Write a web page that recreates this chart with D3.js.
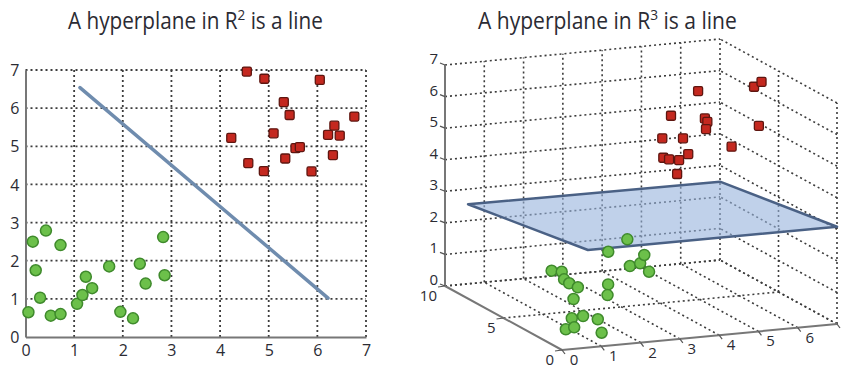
<!DOCTYPE html>
<html>
<head>
<meta charset="utf-8">
<script src="https://cdn.jsdelivr.net/npm/d3@7"></script>
<style>
  body { margin: 0; background: #fff; }
  text { font-family: "Open Sans", sans-serif; fill: #2b2b33; }
</style>
</head>
<body>
<svg id="chart" width="844" height="369"></svg>
<script>
// ---- left chart data (2D) ----
const ticks2d = [0, 1, 2, 3, 4, 5, 6, 7];
const lineX = [1.12, 6.22];
const lineY = [6.54, 1.02];
const greenX = [0.06, 0.15, 0.42, 0.72, 0.21, 0.30, 0.52, 0.72, 1.06, 1.17, 1.24, 1.37, 1.72, 1.95, 2.21, 2.35, 2.47, 2.83, 2.86];
const greenY = [0.65, 2.50, 2.79, 2.41, 1.75, 1.03, 0.56, 0.60, 0.87, 1.10, 1.58, 1.28, 1.85, 0.66, 0.49, 1.92, 1.40, 2.62, 1.62];
const redX = [4.55, 4.91, 6.05, 5.31, 5.43, 6.76, 6.35, 4.23, 5.10, 6.22, 6.46, 5.55, 5.64, 5.34, 6.32, 4.58, 4.90, 5.88];
const redY = [6.96, 6.77, 6.74, 6.16, 5.82, 5.78, 5.54, 5.22, 5.34, 5.30, 5.28, 4.95, 4.98, 4.68, 4.77, 4.56, 4.35, 4.34];

// ---- right chart data (3D) ----
const xTicks3 = [0, 1, 2, 3, 4, 5, 6, 7];
const xLabels3 = [0, 1, 2, 3, 4, 5, 6];
const yTicks3 = [0, 5, 10];
const zTicks3 = [0, 1, 2, 3, 4, 5, 6, 7];
const planeX = [0, 7, 7, 0.66];
const planeY = [8.03, 10, 0, 0];
const planeZ = [2.99, 2.48, 3.08, 3.09];
const green3X = [1.04, 1.22, 1.22, 1.30, 1.33, 1.27, 1.60, 1.54, 1.77, 1.22, 1.43, 1.62, 0.78, 1.04, 1.42, 2.30, 2.30, 2.63, 2.80, 2.74];
const green3Y = [4.38, 4.12, 3.92, 3.75, 3.11, 3.28, 1.43, 1.28, 1.99, 3.26, 3.00, 2.38, 2.29, 2.45, 1.38, 2.14, 1.92, 2.15, 2.37, 1.76];
const green3Z = [1.5, 1.5, 1.3, 1.2, 1.2, 0.8, 1.6, 1.3, 2.5, 0.2, 0.3, 0.3, 0.1, 0.1, 0.1, 2.8, 2.0, 2.0, 2.2, 1.8];
const red3X = [5.71, 4.77, 5.40, 5.32, 5.25, 4.31, 4.76, 4.19, 4.25, 4.44, 4.75, 4.22, 6.11, 6.47, 6.58, 6.53];
const red3Y = [7.54, 6.70, 5.92, 5.44, 5.32, 5.90, 5.64, 5.41, 5.12, 4.90, 5.16, 4.33, 6.02, 5.31, 5.04, 5.10];
const red3Z = [6.0, 5.5, 5.5, 5.5, 5.3, 5.0, 5.0, 4.5, 4.5, 4.5, 4.6, 4.2, 4.5, 6.5, 6.7, 5.3];

const svg = d3.select('#chart');
const gridColor = '#3c3c3c';
const greenFill = '#6cc04a', greenStroke = '#3f8a2c';
const redFill = '#c4281f', redStroke = '#5e1610';

// titles, squeezed to the reference width
function title(cx, sup, width) {
  const t = svg.append('text')
    .attr('x', 0).attr('y', 29)
    .style('font-size', '23px');
  t.append('tspan').text('A hyperplane in R');
  t.append('tspan').attr('dy', -9).style('font-size', '15px').text(sup);
  t.append('tspan').attr('dy', 9).text(' is a line');
  const w = t.node().getComputedTextLength();
  const k = width / w;
  t.attr('transform', `translate(${cx - width / 2},0) scale(${k},1)`);
}
title(195.5, '2', 255);
title(607.5, '3', 259);

// ---------- left: 2D plot ----------
const x = d3.scaleLinear().domain([0, 7]).range([25.5, 366]);
const y = d3.scaleLinear().domain([0, 7]).range([337, 70]);
const left = svg.append('g');

// dotted grid
left.selectAll('.vg').data(ticks2d.slice(1)).enter().append('line')
  .attr('x1', d => x(d)).attr('x2', d => x(d))
  .attr('y1', y(0)).attr('y2', y(7))
  .attr('stroke', gridColor).attr('stroke-width', 1.8).attr('stroke-dasharray', '2,3');
left.selectAll('.hg').data(ticks2d.slice(1)).enter().append('line')
  .attr('x1', x(0)).attr('x2', x(7))
  .attr('y1', d => y(d)).attr('y2', d => y(d))
  .attr('stroke', gridColor).attr('stroke-width', 1.8).attr('stroke-dasharray', '2,3');

// axes
const xAxis = left.append('g').attr('transform', `translate(0,${y(0)})`)
  .call(d3.axisBottom(x).tickValues(ticks2d).tickSize(0).tickPadding(5).tickFormat(d3.format('d')));
const yAxis = left.append('g').attr('transform', `translate(${x(0)},0)`)
  .call(d3.axisLeft(y).tickValues(ticks2d).tickSize(0).tickPadding(6).tickFormat(d3.format('d')));
[xAxis, yAxis].forEach(a => {
  a.select('.domain').attr('stroke', '#777').attr('stroke-width', 2);
  a.selectAll('text').style('font-size', '16px').attr('fill', '#2b2b33').style('font-family', '"Open Sans", sans-serif');
});
xAxis.selectAll('text').attr('dy', '0.85em');
yAxis.selectAll('text').attr('dy', '0.35em');

// separating line
left.append('line')
  .attr('x1', x(lineX[0])).attr('y1', y(lineY[0]))
  .attr('x2', x(lineX[1])).attr('y2', y(lineY[1]))
  .attr('stroke', '#6f8cae').attr('stroke-width', 3.5).attr('stroke-linecap', 'round');

// points
left.selectAll('.g').data(greenX.map((d, i) => [d, greenY[i]])).enter().append('circle')
  .attr('cx', d => x(d[0])).attr('cy', d => y(d[1])).attr('r', 5.5)
  .attr('fill', greenFill).attr('stroke', greenStroke).attr('stroke-width', 1.5);
left.selectAll('.r').data(redX.map((d, i) => [d, redY[i]])).enter().append('rect')
  .attr('x', d => x(d[0]) - 4.5).attr('y', d => y(d[1]) - 4.5)
  .attr('width', 9).attr('height', 9).attr('rx', 1.5)
  .attr('fill', redFill).attr('stroke', redStroke).attr('stroke-width', 1.3);

// ---------- right: 3D plot ----------
const origin = [562, 350];
const EX = [275, -26], EY = [-117, -64], EZ = [0, -221];
const xs = d3.scaleLinear().domain([0, 7]).range([0, 1]);
const ys = d3.scaleLinear().domain([0, 10]).range([0, 1]);
const zs = d3.scaleLinear().domain([0, 7]).range([0, 1]);
function P(a, b, c) {
  const u = xs(a), v = ys(b), w = zs(c);
  return [origin[0] + u * EX[0] + v * EY[0] + w * EZ[0],
          origin[1] + u * EX[1] + v * EY[1] + w * EZ[1]];
}
const right = svg.append('g');
const segs = [];
// back wall y = 10
zTicks3.forEach(z => segs.push([[0, 10, z], [7, 10, z]]));
xTicks3.slice(1).forEach(xv => segs.push([[xv, 10, 0], [xv, 10, 7]]));
// right wall x = 7
zTicks3.forEach(z => segs.push([[7, 0, z], [7, 10, z]]));
yTicks3.slice(0, 2).forEach(yv => segs.push([[7, yv, 0], [7, yv, 7]]));
// floor z = 0
xTicks3.slice(1).forEach(xv => segs.push([[xv, 0, 0], [xv, 10, 0]]));
yTicks3.slice(1).forEach(yv => segs.push([[0, yv, 0], [7, yv, 0]]));

right.selectAll('.grid3').data(segs).enter().append('line')
  .attr('x1', d => P(...d[0])[0]).attr('y1', d => P(...d[0])[1])
  .attr('x2', d => P(...d[1])[0]).attr('y2', d => P(...d[1])[1])
  .attr('stroke', gridColor).attr('stroke-width', 1.6).attr('stroke-dasharray', '2,3');

// solid axes
const axes3 = [[[0, 10, 0], [0, 10, 7]], [[0, 0, 0], [0, 10, 0]], [[0, 0, 0], [7, 0, 0]]];
right.selectAll('.ax3').data(axes3).enter().append('line')
  .attr('x1', d => P(...d[0])[0]).attr('y1', d => P(...d[0])[1])
  .attr('x2', d => P(...d[1])[0]).attr('y2', d => P(...d[1])[1])
  .attr('stroke', '#777').attr('stroke-width', 2);

// ticks and labels
right.selectAll('.zt').data(zTicks3).enter().append('line')
  .attr('x1', d => P(0, 10, d)[0]).attr('y1', d => P(0, 10, d)[1])
  .attr('x2', d => P(0, 10, d)[0] - 5).attr('y2', d => P(0, 10, d)[1] - 2)
  .attr('stroke', '#555').attr('stroke-width', 1.2);
right.selectAll('.zl').data(zTicks3).enter().append('text')
  .attr('x', d => P(0, 10, d)[0] - 7).attr('y', d => P(0, 10, d)[1] - 4)
  .attr('dy', '0.2em').attr('text-anchor', 'end').style('font-size', '15px')
  .text(d => d);
right.selectAll('.yt').data(yTicks3).enter().append('line')
  .attr('x1', d => P(0, d, 0)[0]).attr('y1', d => P(0, d, 0)[1])
  .attr('x2', d => P(0, d, 0)[0] - 7).attr('y2', d => P(0, d, 0)[1] + 1)
  .attr('stroke', '#555').attr('stroke-width', 1.2);
right.selectAll('.yl').data(yTicks3).enter().append('text')
  .attr('x', d => P(0, d, 0)[0] - 8).attr('y', d => P(0, d, 0)[1] + 15)
  .attr('text-anchor', 'end').style('font-size', '15px')
  .text(d => d);
right.selectAll('.xt').data(xTicks3).enter().append('line')
  .attr('x1', d => P(d, 0, 0)[0]).attr('y1', d => P(d, 0, 0)[1])
  .attr('x2', d => P(d, 0, 0)[0] + 3).attr('y2', d => P(d, 0, 0)[1] + 4)
  .attr('stroke', '#555').attr('stroke-width', 1.2);
right.selectAll('.xl').data(xLabels3).enter().append('text')
  .attr('x', d => P(d, 0, 0)[0] + 12).attr('y', d => P(d, 0, 0)[1] + 15)
  .attr('text-anchor', 'middle').style('font-size', '15px')
  .text(d => d);

// hyperplane
const planePts = planeX.map((d, i) => P(d, planeY[i], planeZ[i]));
right.append('path')
  .attr('d', d3.line()(planePts) + 'Z')
  .attr('fill', 'rgba(150,178,220,0.6)')
  .attr('stroke', '#4a6185').attr('stroke-width', 2.5).attr('stroke-linejoin', 'round');

// points
right.selectAll('.g3').data(green3X.map((d, i) => P(d, green3Y[i], green3Z[i]))).enter().append('circle')
  .attr('cx', d => d[0]).attr('cy', d => d[1]).attr('r', 5.5)
  .attr('fill', greenFill).attr('stroke', greenStroke).attr('stroke-width', 1.5);
right.selectAll('.r3').data(red3X.map((d, i) => P(d, red3Y[i], red3Z[i]))).enter().append('rect')
  .attr('x', d => d[0] - 4.5).attr('y', d => d[1] - 4.5)
  .attr('width', 9).attr('height', 9).attr('rx', 1.5)
  .attr('fill', redFill).attr('stroke', redStroke).attr('stroke-width', 1.3);
</script>
</body>
</html>
